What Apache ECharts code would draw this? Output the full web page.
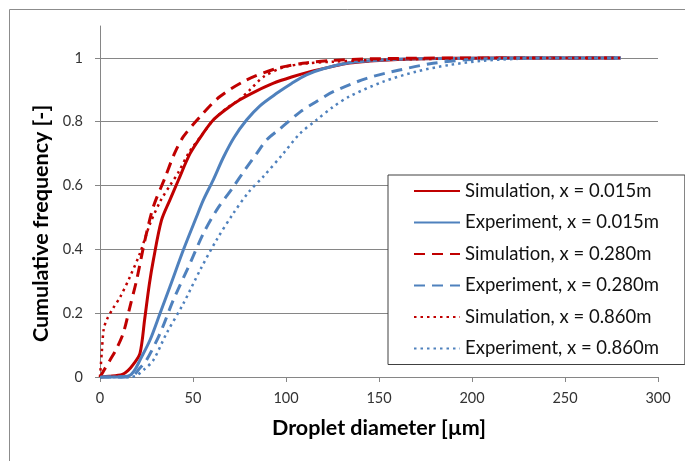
<!DOCTYPE html>
<html>
<head>
<meta charset="utf-8">
<script src="https://cdn.jsdelivr.net/npm/echarts@6/dist/echarts.min.js"></script>
<style>html,body{margin:0;padding:0;background:#fff;}#c{width:685px;height:461px;}</style>
</head>
<body>
<div id="c"></div>
<script>
// ---- data ----
const seriesNames = [
  'Simulation, x = 0.015m', 'Experiment, x = 0.015m',
  'Simulation, x = 0.280m', 'Experiment, x = 0.280m',
  'Simulation, x = 0.860m', 'Experiment, x = 0.860m'
];
const sim015D = [0, 5, 12, 15, 18, 21.5, 24, 26.5, 28.7, 33, 37.6, 42, 48.4, 55, 61, 68, 75, 84, 93, 103, 113, 124, 134, 145, 160, 180, 200, 230, 260, 280];
const sim015F = [0, 0.002, 0.008, 0.02, 0.04, 0.074, 0.18, 0.29, 0.367, 0.49, 0.555, 0.615, 0.70, 0.76, 0.806, 0.84, 0.868, 0.896, 0.92, 0.94, 0.957, 0.972, 0.984, 0.99, 0.995, 0.998, 0.999, 1, 1, 1];
const exp015D = [0, 10, 16, 19, 21.5, 26.9, 32.3, 37.6, 44.8, 51.9, 55.6, 60.9, 66.3, 72, 78.9, 86, 95, 103, 111, 120, 134, 150, 170, 200, 240, 280];
const exp015F = [0, 0, 0.005, 0.025, 0.053, 0.116, 0.2, 0.283, 0.398, 0.502, 0.555, 0.618, 0.688, 0.75, 0.806, 0.85, 0.889, 0.92, 0.947, 0.966, 0.985, 0.993, 0.997, 0.999, 1, 1];
const sim280D = [0, 2, 5.4, 9, 12.5, 16.1, 19.7, 24.2, 28.7, 35, 40, 44.8, 53.8, 64.5, 78.9, 95, 109, 125, 145, 170, 200, 240, 280];
const sim280F = [0, 0.02, 0.053, 0.09, 0.137, 0.22, 0.304, 0.43, 0.534, 0.625, 0.70, 0.753, 0.816, 0.879, 0.931, 0.967, 0.983, 0.992, 0.997, 0.999, 1, 1, 1];
const exp280D = [0, 14, 18, 21, 25, 32.3, 39.4, 48.4, 55.6, 62.7, 71.7, 78, 84.2, 89.6, 96.8, 107.5, 116, 125.4, 143.4, 161, 179, 197, 220, 250, 280];
const exp280F = [0, 0, 0.005, 0.025, 0.053, 0.137, 0.241, 0.356, 0.45, 0.523, 0.596, 0.65, 0.70, 0.743, 0.778, 0.83, 0.862, 0.894, 0.936, 0.962, 0.983, 0.994, 0.999, 1, 1];
const sim860D = [0, 1, 2, 3.6, 7, 10.8, 16.1, 21.5, 26.9, 32.8, 37.6, 42, 48, 55, 61, 68, 75, 80.6, 88, 98.5, 110, 125, 140, 160, 190, 220, 250, 280];
const sim860F = [0, 0.08, 0.15, 0.179, 0.215, 0.25, 0.314, 0.388, 0.48, 0.555, 0.6, 0.64, 0.705, 0.76, 0.806, 0.842, 0.87, 0.9, 0.941, 0.97, 0.982, 0.988, 0.992, 0.995, 0.998, 1, 1, 1];
const exp860D = [0, 16, 19.7, 24, 28.7, 35.8, 44.8, 53.8, 62.7, 71.7, 80, 87.8, 98.5, 107, 116.5, 125, 134, 152, 170, 188, 206, 225, 250, 280];
const exp860F = [0, 0, 0.005, 0.025, 0.053, 0.137, 0.23, 0.335, 0.43, 0.513, 0.58, 0.628, 0.70, 0.76, 0.806, 0.845, 0.879, 0.925, 0.957, 0.978, 0.991, 0.997, 1, 1];
const xTicks = [0, 50, 100, 150, 200, 250, 300];
const yTicks = [0, 0.2, 0.4, 0.6, 0.8, 1];

const RED = '#C00000', BLUE = '#4F81BD';
const FONT = 'Lato, "Open Sans", sans-serif';
function pairs(d, f) { return d.map((v, i) => [v, f[i]]); }
const curves = [
  [sim015D, sim015F, RED, 'solid', 3],
  [exp015D, exp015F, BLUE, 'solid', 3],
  [sim280D, sim280F, RED, [11, 7], 3],
  [exp280D, exp280F, BLUE, [11, 7], 3],
  [sim860D, sim860F, RED, [2.5, 4], 2.5],
  [exp860D, exp860F, BLUE, [2.5, 4], 2.5]
];

const chart = echarts.init(document.getElementById('c'), null, {renderer: 'canvas'});
chart.setOption({
  animation: false,
  backgroundColor: '#fff',
  textStyle: {fontFamily: FONT},
  graphic: [{
    type: 'rect', left: 7, top: 7, silent: true, z: -10,
    shape: {width: 720, height: 520},
    style: {fill: 'none', stroke: '#8c8c8c', lineWidth: 1}
  }],
  grid: {left: 100, right: 27, top: 26, bottom: 84},
  legend: {
    orient: 'vertical', left: 388, top: 175,
    padding: [6, 26, 6, 25],
    itemWidth: 46, itemHeight: 20, itemGap: 11.5,
    borderColor: '#404040', borderWidth: 1, backgroundColor: '#fff',
    itemStyle: {opacity: 0},
    textStyle: {fontFamily: FONT, fontSize: 18.5, color: '#111', lineHeight: 20},
    data: seriesNames
  },
  xAxis: {
    type: 'value', min: 0, max: 300, interval: 50,
    name: 'Droplet diameter [µm]', nameLocation: 'middle', nameGap: 40,
    nameTextStyle: {fontFamily: FONT, fontSize: 21.5, fontWeight: 'bold', color: '#000'},
    axisLine: {show: true, lineStyle: {color: '#868686', width: 1}},
    axisTick: {show: true, length: 5, lineStyle: {color: '#868686'}, customValues: xTicks},
    axisLabel: {fontFamily: FONT, fontSize: 14.5, color: '#333', margin: 14, customValues: xTicks},
    splitLine: {show: false}
  },
  yAxis: {
    type: 'value', min: 0, max: 1.1, interval: 0.2,
    name: 'Cumulative frequency [-]', nameLocation: 'middle', nameGap: 42,
    nameTextStyle: {fontFamily: FONT, fontSize: 21.5, fontWeight: 'bold', color: '#000', padding: [0, 44, 0, 0]},
    axisLine: {show: true, lineStyle: {color: '#868686', width: 1}},
    axisTick: {show: true, length: 5, lineStyle: {color: '#868686'}, customValues: yTicks},
    axisLabel: {fontFamily: FONT, fontSize: 14.5, color: '#333', margin: 17, customValues: yTicks},
    splitLine: {show: true, lineStyle: {color: '#868686', width: 1}}
  },
  series: curves.map((c, i) => ({
    name: seriesNames[i],
    type: 'line',
    data: pairs(c[0], c[1]),
    showSymbol: false,
    symbol: 'none',
    smooth: 0.3,
    clip: false,
    lineStyle: {color: c[2], type: c[3], width: c[4]},
    itemStyle: {color: c[2]}
  }))
});
</script>
</body>
</html>
